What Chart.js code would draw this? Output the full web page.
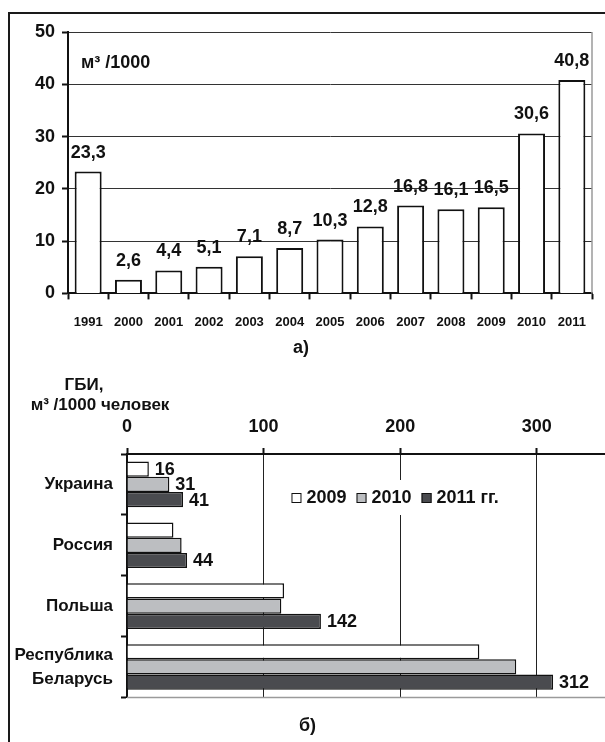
<!DOCTYPE html>
<html>
<head>
<meta charset="utf-8">
<script src="https://cdn.jsdelivr.net/npm/chart.js@4.4.1/dist/chart.umd.min.js"></script>
<style>
  html, body { margin: 0; padding: 0; background: #fff; width: 605px; height: 742px; overflow: hidden; }
  #frame { position: absolute; left: 8px; top: 12px; width: 700px; height: 800px; border: 2px solid #1a1a1a; box-sizing: border-box; }
  #wrapA { position: absolute; left: 10px; top: 14px; width: 595px; height: 346px; }
  #wrapB { position: absolute; left: 10px; top: 360px; width: 595px; height: 382px; }
  canvas { display: block; }
</style>
</head>
<body>
<div id="frame"></div>
<div id="wrapA"><canvas id="chartA" width="595" height="346"></canvas></div>
<div id="wrapB"><canvas id="chartB" width="595" height="382"></canvas></div>
<script>
// (а) volume per 1000 inhabitants by year
const years = ['1991', '2000', '2001', '2002', '2003', '2004', '2005', '2006', '2007', '2008', '2009', '2010', '2011'];
const volumes = [23.3, 2.6, 4.4, 5.1, 7.1, 8.7, 10.3, 12.8, 16.8, 16.1, 16.5, 30.6, 40.8];
const yTicks = [0, 10, 20, 30, 40, 50];

// (б) comparison by country, 2009–2011
const countries = ['Украина', 'Россия', 'Польша', ['Республика', 'Беларусь']];
const seriesYears = ['2009', '2010', '2011'];
const values2009 = [16, 34, 115, 258];
const values2010 = [31, 40, 113, 285];
const values2011 = [41, 44, 142, 312];
const shown2009 = [true, false, false, false];
const shown2010 = [true, false, false, false];
const shown2011 = [true, true, true, true];
const xTicks = [0, 100, 200, 300];

const FONT = "'Liberation Sans', Arial, sans-serif";
const INK = '#111';
Chart.defaults.font.family = FONT;
Chart.defaults.font.weight = 'bold';
Chart.defaults.color = INK;

const fmt = v => String(v).replace('.', ',');

// ---------- chart а) ----------
const labelsAbove = {
  id: 'labelsAbove',
  afterDatasetsDraw(chart) {
    const ctx = chart.ctx;
    const ds = chart.data.datasets[0];
    ctx.save();
    ctx.font = `bold 18px ${FONT}`;
    ctx.fillStyle = INK;
    ctx.textAlign = 'center';
    ctx.textBaseline = 'alphabetic';
    chart.getDatasetMeta(0).data.forEach((bar, i) => {
      ctx.fillText(fmt(ds.data[i].toFixed(1)), bar.x, bar.y - 14);
    });
    ctx.restore();
  }
};

const unitsA = {
  id: 'unitsA',
  afterDraw(chart) {
    const { ctx, chartArea } = chart;
    ctx.save();
    ctx.font = `bold 18px ${FONT}`;
    ctx.fillStyle = INK;
    ctx.textAlign = 'left';
    ctx.textBaseline = 'alphabetic';
    ctx.fillText('м³ /1000', chartArea.left + 13, chartArea.top + 36);
    // light right edge of the plot area
    ctx.strokeStyle = '#9a9a9a';
    ctx.lineWidth = 1.5;
    ctx.beginPath();
    ctx.moveTo(chartArea.right, chartArea.top);
    ctx.lineTo(chartArea.right, chartArea.bottom);
    ctx.stroke();
    ctx.restore();
  }
};

new Chart(document.getElementById('chartA'), {
  type: 'bar',
  data: {
    labels: years,
    datasets: [{
      data: volumes,
      backgroundColor: '#ffffff',
      borderColor: INK,
      borderWidth: 2,
      barPercentage: 0.67,
      categoryPercentage: 1
    }]
  },
  options: {
    responsive: false,
    devicePixelRatio: 1,
    animation: false,
    layout: { padding: { top: 18, right: 13, left: 0, bottom: 0 } },
    plugins: {
      legend: { display: false },
      tooltip: { enabled: false },
      title: {
        display: true,
        position: 'bottom',
        text: 'а)',
        color: INK,
        font: { size: 18, weight: 'bold' },
        padding: { top: 0, bottom: 1 }
      }
    },
    scales: {
      x: {
        grid: { drawOnChartArea: false, tickLength: 6, tickColor: INK, tickWidth: 2, offset: true },
        border: { color: INK, width: 2 },
        ticks: { padding: 15, font: { size: 13 }, color: INK, maxRotation: 0, autoSkip: false },
        afterFit(s) { s.height = 44; }
      },
      y: {
        min: 0,
        max: 50,
        afterBuildTicks(s) { s.ticks = yTicks.map(v => ({ value: v })); },
        ticks: { padding: 7, font: { size: 18 }, color: INK },
        grid: { color: '#333', lineWidth: 1, tickLength: 6, tickColor: INK, tickWidth: 2 },
        border: { color: INK, width: 2 },
        afterFit(s) { s.width = 58; }
      }
    }
  },
  plugins: [labelsAbove, unitsA]
});

// ---------- chart б) ----------
const seriesColors = ['#ffffff', '#bcbec1', '#4a4b4f'];
const seriesValues = [values2009, values2010, values2011];
const seriesShown = [shown2009, shown2010, shown2011];

const labelsRight = {
  id: 'labelsRight',
  afterDatasetsDraw(chart) {
    const ctx = chart.ctx;
    ctx.save();
    ctx.font = `bold 18px ${FONT}`;
    ctx.fillStyle = INK;
    ctx.textAlign = 'left';
    ctx.textBaseline = 'middle';
    chart.data.datasets.forEach((ds, d) => {
      chart.getDatasetMeta(d).data.forEach((bar, i) => {
        if (seriesShown[d][i]) ctx.fillText(String(ds.data[i]), bar.x + 6, bar.y + 1);
      });
    });
    ctx.restore();
  }
};

const decorB = {
  id: 'decorB',
  afterDraw(chart) {
    const { ctx, chartArea } = chart;
    const xs = chart.scales.x;
    ctx.save();
    // light bottom edge of the plot area
    ctx.strokeStyle = '#9a9a9a';
    ctx.lineWidth = 1.5;
    ctx.beginPath();
    ctx.moveTo(chartArea.left, chartArea.bottom);
    ctx.lineTo(chartArea.right, chartArea.bottom);
    ctx.stroke();

    // axis caption
    ctx.fillStyle = INK;
    ctx.textAlign = 'center';
    ctx.textBaseline = 'alphabetic';
    ctx.font = `bold 17px ${FONT}`;
    ctx.fillText('ГБИ,', chartArea.left - 43, chartArea.top - 64);
    ctx.fillText('м³ /1000 человек', chartArea.left - 27, chartArea.top - 44);

    // legend inside the plot
    ctx.font = `bold 18px ${FONT}`;
    const names = chart.data.datasets.map(ds => ds.label);
    const box = 10, gapBox = 5, gapItem = 10;
    const widths = names.map(n => box + gapBox + ctx.measureText(n).width);
    const total = widths.reduce((a, b) => a + b, 0) + gapItem * (names.length - 1);
    const cx = xs.getPixelForValue(200) - 5;
    const cy = chartArea.top + 43;
    let x = cx - total / 2;
    ctx.fillStyle = '#fff';
    ctx.fillRect(x - 5, cy - 17, total + 10, 35);
    ctx.textAlign = 'left';
    ctx.textBaseline = 'middle';
    names.forEach((n, i) => {
      ctx.fillStyle = chart.data.datasets[i].backgroundColor;
      ctx.fillRect(x, cy - box / 2 + 1, box, box);
      ctx.strokeStyle = INK;
      ctx.lineWidth = 1;
      ctx.strokeRect(x + 0.5, cy - box / 2 + 1.5, box - 1, box - 1);
      ctx.fillStyle = INK;
      ctx.fillText(n, x + box + gapBox, cy + 1);
      x += widths[i] + gapItem;
    });
    ctx.restore();
  }
};

new Chart(document.getElementById('chartB'), {
  type: 'bar',
  data: {
    labels: countries,
    datasets: seriesYears.map((yr, i) => ({
      label: i === seriesYears.length - 1 ? yr + ' гг.' : yr,
      data: seriesValues[i],
      backgroundColor: seriesColors[i],
      borderColor: INK,
      borderWidth: 1.5,
      categoryPercentage: 0.75,
      barPercentage: 1
    }))
  },
  options: {
    indexAxis: 'y',
    responsive: false,
    devicePixelRatio: 1,
    animation: false,
    layout: { padding: { top: 0, right: 0, left: 0, bottom: 0 } },
    plugins: {
      legend: { display: false },
      tooltip: { enabled: false },
      title: {
        display: true,
        position: 'bottom',
        text: 'б)',
        color: INK,
        font: { size: 18, weight: 'bold' },
        padding: { top: 18, bottom: 5 }
      }
    },
    scales: {
      x: {
        position: 'top',
        min: 0,
        max: 350,
        afterBuildTicks(s) { s.ticks = xTicks.map(v => ({ value: v })); },
        ticks: { padding: 10, font: { size: 18 }, color: INK },
        grid: { color: '#222', lineWidth: 1, tickLength: 6, tickColor: INK, tickWidth: 2 },
        border: { color: INK, width: 2 },
        afterFit(s) { s.height = 94; }
      },
      y: {
        ticks: { padding: 8, font: { size: 17, lineHeight: 1.4 }, color: INK },
        grid: { drawOnChartArea: false, tickLength: 6, tickColor: INK, tickWidth: 2, offset: true },
        border: { color: INK, width: 2 },
        afterFit(s) { s.width = 117; }
      }
    }
  },
  plugins: [labelsRight, decorB]
});
</script>
</body>
</html>
